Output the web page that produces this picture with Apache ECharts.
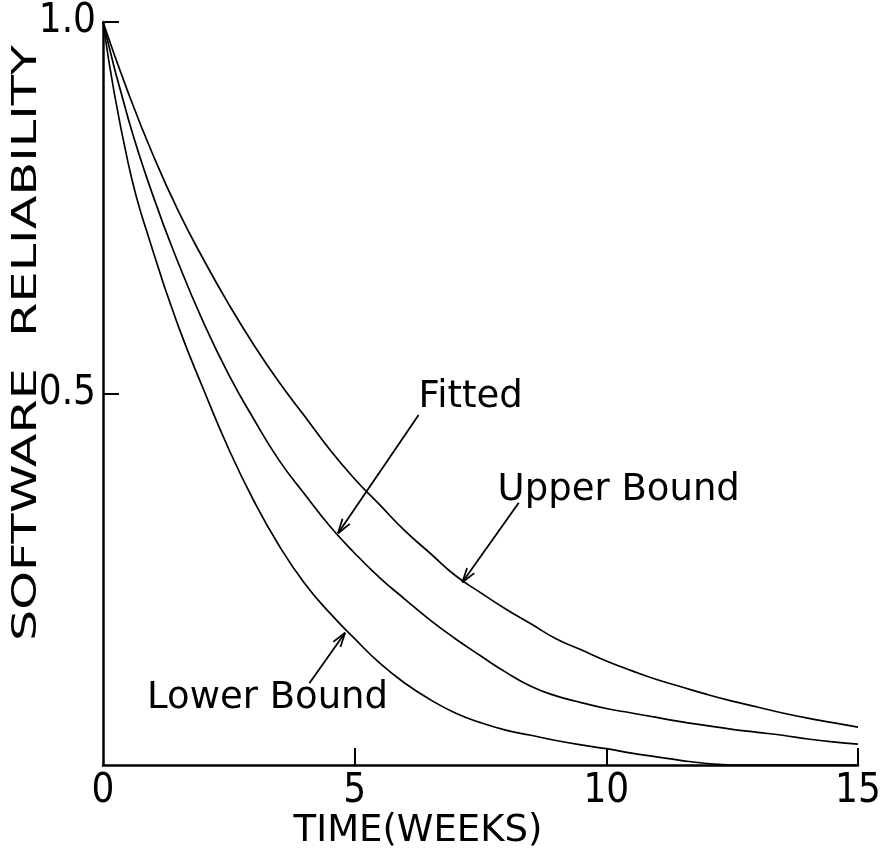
<!DOCTYPE html>
<html>
<head>
<meta charset="utf-8">
<script src="https://cdn.jsdelivr.net/npm/echarts@6/dist/echarts.min.js"></script>
<style>
  html, body { margin: 0; padding: 0; background: #fff; }
  #chart { width: 884px; height: 850px; }
</style>
</head>
<body>
<div id="chart"></div>
<script>
// Time in weeks at which the curves are sampled
const weeks = [0, 0.5, 1, 1.5, 2, 2.5, 3, 3.5, 4, 4.5, 5, 5.5, 6, 6.5, 7, 7.5, 8, 8.5, 9, 9.5, 10,
               10.5, 11, 11.5, 12, 12.5, 13, 13.5, 14, 14.5, 15];
// Software reliability estimates
const upperBound = [1.0, 0.905, 0.82, 0.745, 0.68, 0.62, 0.565, 0.515, 0.47, 0.425, 0.385, 0.35, 0.315, 0.285, 0.255, 0.232,
                    0.21, 0.19, 0.17, 0.155, 0.14, 0.127, 0.115, 0.105, 0.095, 0.086, 0.078, 0.07, 0.063, 0.057, 0.051];
const fitted     = [1.0, 0.87, 0.765, 0.675, 0.595, 0.525, 0.465, 0.41, 0.365, 0.322, 0.285, 0.252, 0.223, 0.195, 0.17, 0.147,
                    0.125, 0.106, 0.093, 0.084, 0.076, 0.07, 0.064, 0.058, 0.053, 0.048, 0.044, 0.04, 0.035, 0.031, 0.028];
const lowerBound = [1.0, 0.81, 0.69, 0.59, 0.505, 0.425, 0.355, 0.295, 0.245, 0.205, 0.17, 0.137, 0.11, 0.088, 0.07, 0.057,
                    0.047, 0.04, 0.033, 0.027, 0.022, 0.016, 0.011, 0.006, 0.002, 0, 0, 0, 0, 0, 0];

// Axis ticks
const xTicks = [0, 5, 10, 15];
const yTicks = [0.5, 1.0];

// Curve annotations: label, label anchor [x, y], arrow tail [x, y], arrow head [x, y]
const noteLabels = ['Fitted', 'Upper Bound', 'Lower Bound'];
const noteAnchors = [[6.27, 0.495], [7.84, 0.370], [0.875, 0.089]];
const arrowTails = [[6.27, 0.471], [8.26, 0.353], [4.10, 0.110]];
const arrowHeads = [[4.67, 0.312], [7.14, 0.246], [4.81, 0.178]];

const FONT = 'DejaVu Sans';
const NUM_FONT = '"Liberation Sans Narrow", "DejaVu Sans Condensed", "DejaVu Sans", sans-serif';
const INK = '#000';

function pairs(xs, ys) { return xs.map((x, i) => [x, ys[i]]); }

const chart = echarts.init(document.getElementById('chart'), null, { renderer: 'canvas' });

const curveStyle = { color: INK, width: 1.7 };
function curve(name, values) {
  return {
    name, type: 'line', data: pairs(weeks, values), smooth: 0.5,
    showSymbol: false, symbol: 'none', lineStyle: curveStyle, silent: true, z: 3
  };
}

const noteData = noteLabels.map((t, i) => [arrowTails[i][0], arrowTails[i][1], arrowHeads[i][0], arrowHeads[i][1], noteAnchors[i][0], noteAnchors[i][1]]);

chart.setOption({
  animation: false,
  backgroundColor: '#fff',
  grid: { left: 103, right: 26, top: 22, bottom: 85, containLabel: false },
  xAxis: {
    type: 'value', min: 0, max: 15, interval: 5,
    axisLine: { show: true, onZero: false, lineStyle: { color: INK, width: 2.5 } },
    axisTick: { show: true, inside: true, length: 17, lineStyle: { color: INK, width: 2 },
                customValues: xTicks.filter(v => v > 0) },
    axisLabel: { show: true, color: INK, fontFamily: NUM_FONT, fontSize: 40, margin: 7,
                 customValues: xTicks, formatter: v => String(v) },
    splitLine: { show: false }
  },
  yAxis: {
    type: 'value', min: 0, max: 1, interval: 0.5,
    axisLine: { show: true, onZero: false, lineStyle: { color: INK, width: 2.5 } },
    axisTick: { show: true, inside: true, length: 16, lineStyle: { color: INK, width: 2 },
                customValues: yTicks },
    axisLabel: { show: true, color: INK, fontFamily: NUM_FONT, fontSize: 40, margin: 7,
                 customValues: yTicks, formatter: v => v.toFixed(1) },
    splitLine: { show: false }
  },
  series: [
    curve('Upper Bound', upperBound),
    curve('Fitted', fitted),
    curve('Lower Bound', lowerBound),
    {
      type: 'custom', name: 'notes', data: noteData, silent: true, z: 4,
      renderItem: function (params, api) {
        const i = params.dataIndex;
        const p0 = api.coord([api.value(0), api.value(1)]);
        const p1 = api.coord([api.value(2), api.value(3)]);
        const pt = api.coord([api.value(4), api.value(5)]);
        const ang = Math.atan2(p1[1] - p0[1], p1[0] - p0[0]);
        const hl = 15, spread = 0.3;
        const h1 = [p1[0] - hl * Math.cos(ang - spread), p1[1] - hl * Math.sin(ang - spread)];
        const h2 = [p1[0] - hl * Math.cos(ang + spread), p1[1] - hl * Math.sin(ang + spread)];
        const ls = { stroke: INK, lineWidth: 1.8 };
        return {
          type: 'group',
          children: [
            { type: 'line', shape: { x1: p0[0], y1: p0[1], x2: p1[0], y2: p1[1] }, style: ls },
            { type: 'line', shape: { x1: h1[0], y1: h1[1], x2: p1[0], y2: p1[1] }, style: ls },
            { type: 'line', shape: { x1: h2[0], y1: h2[1], x2: p1[0], y2: p1[1] }, style: ls },
            { type: 'text', x: pt[0], y: pt[1],
              style: { text: noteLabels[i], fill: INK, font: '37px "' + FONT + '"',
                       textAlign: 'left', textVerticalAlign: 'middle' } }
          ]
        };
      }
    }
  ],
  graphic: [
    { type: 'text', x: 418, y: 831,
      style: { text: 'TIME(WEEKS)', fill: INK, font: '37px "' + FONT + '"',
               textAlign: 'center', textVerticalAlign: 'middle' } },
    { type: 'text', x: 27, y: 343, rotation: Math.PI / 2, scaleX: 1.45,
      style: { text: 'SOFTWARE  RELIABILITY', fill: INK, font: '34px "' + FONT + '"',
               textAlign: 'center', textVerticalAlign: 'middle' } }
  ]
});
</script>
</body>
</html>
